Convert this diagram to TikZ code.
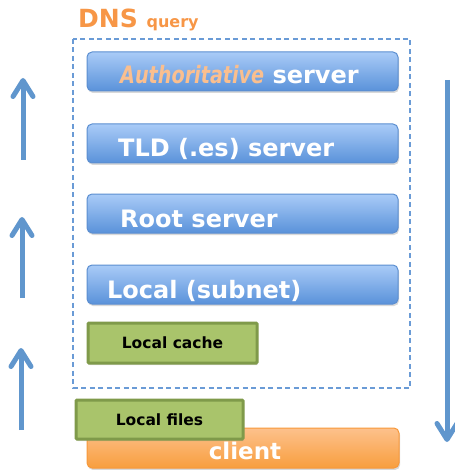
\documentclass[tikz,border=0pt]{standalone}
\usepackage{fontspec}
\setmainfont{DejaVu Sans}
\usetikzlibrary{shadows,arrows.meta}
\definecolor{bluetop}{HTML}{A9CBF7}
\definecolor{bluebot}{HTML}{5A92DA}
\definecolor{blueedge}{HTML}{5B8ED0}
\definecolor{arrowblue}{HTML}{6096CD}
\definecolor{dashblue}{HTML}{6A9BD6}
\definecolor{orangetxt}{HTML}{F79646}
\definecolor{orangelt}{HTML}{FABF8F}
\definecolor{greenfill}{HTML}{A9C46B}
\definecolor{greenedge}{HTML}{7F9A4A}
\definecolor{orangetop}{HTML}{FDC18C}
\definecolor{orangebot}{HTML}{F89E3E}
\definecolor{orangeedge}{HTML}{F7983A}
\tikzset{
  server/.style={draw=blueedge, line width=1pt, rounded corners=5pt,
    top color=bluetop, bottom color=bluebot,
    drop shadow={shadow xshift=1pt, shadow yshift=-2pt, opacity=0.3}},
  srvtext/.style={text=white, inner sep=0pt, font=\bfseries\fontsize{24}{24}\selectfont},
  greenbox/.style={draw=greenedge, line width=3pt, fill=greenfill, rounded corners=1pt,
    drop shadow={shadow xshift=1pt, shadow yshift=-2pt, opacity=0.25},
    font=\bfseries\fontsize{15.5}{15.5}\selectfont},
  bigarrow/.style={draw=arrowblue, line width=5pt, -{Straight Barb[length=16pt,width=20pt,line width=5pt,round]}},
}
\begin{document}
\begin{tikzpicture}[x=1pt,y=-1pt]
\useasboundingbox (0,0) rectangle (454,470);
% title
\node[anchor=base west, inner sep=0pt, text=orangetxt, font=\bfseries\fontsize{25}{25}\selectfont] (dns) at (78,28) {DNS \fontsize{16}{16}\selectfont query};
% dashed frame
\draw[dashblue, line width=1.4pt, dash pattern=on 5pt off 3.5pt] (73,39) rectangle (410,388);
% servers
\path[server] (87,52) rectangle (398,91);
\node[srvtext, anchor=base west] (auth) at (120,84) {\textcolor{orangelt}{\scalebox{0.8}[1]{\itshape Authoritative}} server};
\path[server] (87,124) rectangle (398,163);
\node[srvtext, anchor=base west] (tld) at (118,157) {TLD (.es) server};
\path[server] (87,194) rectangle (398,233);
\node[srvtext, anchor=base west] (root) at (120,227) {Root server};
\path[server] (87,265) rectangle (398,304);
\node[srvtext, anchor=base west] (local) at (107,298) {Local (subnet)};
% green boxes
\node[greenbox, minimum width=169pt, minimum height=40pt, anchor=north west] (cache) at (86.5,321.5) {Local cache};
% client
\path[draw=orangeedge, line width=1pt, rounded corners=5pt, top color=orangetop, bottom color=orangebot,
  drop shadow={shadow xshift=1pt, shadow yshift=-2pt, opacity=0.3}] (87,428) rectangle (399,468);
\node[text=white, inner sep=0pt, anchor=base, font=\bfseries\fontsize{23}{23}\selectfont] (client) at (245,459) {client};
\node[greenbox, minimum width=167pt, minimum height=39pt, anchor=north west] (files) at (74.5,398.5) {Local files};
% arrows
\coordinate (a1s) at (23,160); \coordinate (a1e) at (23,78);
\coordinate (a2s) at (22,298); \coordinate (a2e) at (22,217);
\coordinate (a3s) at (21,430); \coordinate (a3e) at (21,348);
\coordinate (bs) at (447,80); \coordinate (be) at (447,442);
\draw[bigarrow] (a1s) -- (a1e);
\draw[bigarrow] (a2s) -- (a2e);
\draw[bigarrow] (a3s) -- (a3e);
\draw[bigarrow] (bs) -- (be);
\end{tikzpicture}
\end{document}
